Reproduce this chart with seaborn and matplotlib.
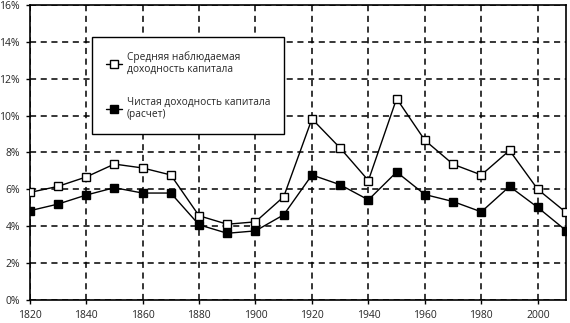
import matplotlib
matplotlib.use("Agg")
import matplotlib.pyplot as plt
import seaborn as sns
import pandas as pd
from matplotlib.ticker import FuncFormatter

years = [1820, 1830, 1840, 1850, 1860, 1870, 1880, 1890, 1900, 1910,
         1920, 1930, 1940, 1950, 1960, 1970, 1980, 1990, 2000, 2010]
observed = [5.83, 6.16, 6.67, 7.37, 7.16, 6.78, 4.57, 4.11, 4.24, 5.60,
            9.82, 8.24, 6.48, 10.92, 8.66, 7.36, 6.78, 8.11, 6.00, 4.75]
net = [4.84, 5.20, 5.69, 6.09, 5.80, 5.80, 4.08, 3.62, 3.75, 4.62,
       6.78, 6.25, 5.43, 6.94, 5.72, 5.34, 4.78, 6.16, 5.02, 3.77]
label_observed = "Средняя наблюдаемая\nдоходность капитала"
label_net = "Чистая доходность капитала\n(расчет)"
x_ticks = [1820, 1840, 1860, 1880, 1900, 1920, 1940, 1960, 1980, 2000]
y_ticks = [0, 2, 4, 6, 8, 10, 12, 14, 16]

sns.set_style("white")
plt.rcParams['font.family'] = ['Open Sans', 'DejaVu Sans']

df = pd.DataFrame({"year": years, "observed": observed, "net": net})

fig = plt.figure(figsize=(5.7, 3.23), dpi=100)
ax = fig.add_axes([0.052, 0.071, 0.941, 0.914])

sns.lineplot(data=df, x="year", y="observed", ax=ax, color="black", lw=1.0,
             marker="s", markersize=5.5, markerfacecolor="white",
             markeredgecolor="black", markeredgewidth=1.0, label=label_observed,
             zorder=3)
sns.lineplot(data=df, x="year", y="net", ax=ax, color="black", lw=1.0,
             marker="s", markersize=5.5, markerfacecolor="black",
             markeredgecolor="black", markeredgewidth=1.0, label=label_net,
             zorder=3)

ax.set_xlim(1820, 2010)
ax.set_ylim(0, 16)
ax.set_xticks(x_ticks)
ax.set_yticks(y_ticks)
ax.yaxis.set_major_formatter(FuncFormatter(lambda v, p: f"{int(v)}%"))
ax.set_xlabel("")
ax.set_ylabel("")
ax.grid(True, color="black", linestyle=(0, (4, 3)), linewidth=1.1)
ax.tick_params(axis="both", labelsize=7.5, length=3, width=1, color="black",
               pad=4, left=True, bottom=True)
for s in ax.spines.values():
    s.set_color("black")
    s.set_linewidth(1.2)

leg = ax.legend(loc="upper left", bbox_to_anchor=(0.1165, 0.892),
                borderaxespad=0, frameon=True, fancybox=False,
                edgecolor="black", fontsize=7.3, handlelength=1.5,
                labelspacing=2.1, borderpad=1.4, handletextpad=0.5,
                framealpha=1)
leg.get_frame().set_linewidth(1.0)

fig.savefig("out.png", dpi=100)
